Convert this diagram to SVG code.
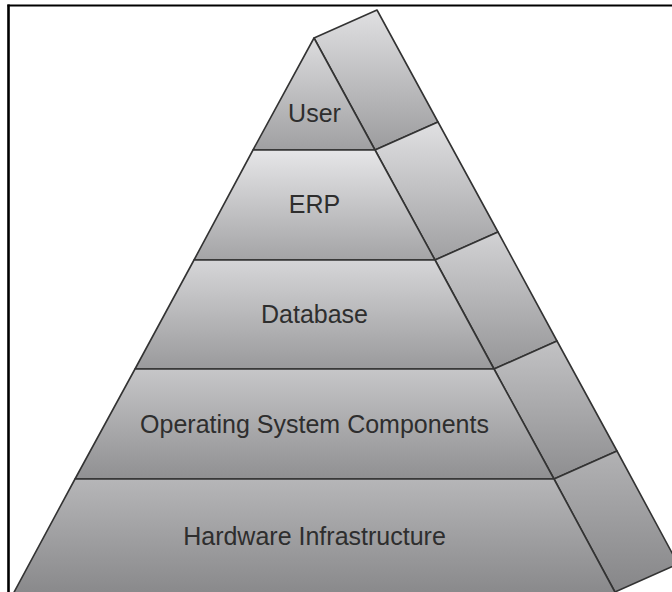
<svg xmlns="http://www.w3.org/2000/svg" width="672" height="592" viewBox="0 0 672 592">
  <defs>
    <linearGradient id="gUser" x1="0" y1="0" x2="0" y2="1"><stop offset="0" stop-color="#dcdcde"/><stop offset="1" stop-color="#a0a0a2"/></linearGradient>
    <linearGradient id="gErp" x1="0" y1="0" x2="0" y2="1"><stop offset="0" stop-color="#e6e6e8"/><stop offset="1" stop-color="#a4a4a6"/></linearGradient>
    <linearGradient id="gDb" x1="0" y1="0" x2="0" y2="1"><stop offset="0" stop-color="#d6d6d8"/><stop offset="1" stop-color="#9a9a9c"/></linearGradient>
    <linearGradient id="gOs" x1="0" y1="0" x2="0" y2="1"><stop offset="0" stop-color="#c6c6c8"/><stop offset="1" stop-color="#909092"/></linearGradient>
    <linearGradient id="gHw" x1="0" y1="0" x2="0" y2="1"><stop offset="0" stop-color="#b6b6b8"/><stop offset="1" stop-color="#88888a"/></linearGradient>
    <linearGradient id="sUser" x1="0" y1="0" x2="0" y2="1"><stop offset="0" stop-color="#e0e0e2"/><stop offset="1" stop-color="#9c9c9e"/></linearGradient>
    <linearGradient id="sErp" x1="0" y1="0" x2="0" y2="1"><stop offset="0" stop-color="#e0e0e2"/><stop offset="1" stop-color="#a0a0a2"/></linearGradient>
    <linearGradient id="sDb" x1="0" y1="0" x2="0" y2="1"><stop offset="0" stop-color="#d2d2d4"/><stop offset="1" stop-color="#969698"/></linearGradient>
    <linearGradient id="sOs" x1="0" y1="0" x2="0" y2="1"><stop offset="0" stop-color="#c2c2c4"/><stop offset="1" stop-color="#8e8e90"/></linearGradient>
    <linearGradient id="sHw" x1="0" y1="0" x2="0" y2="1"><stop offset="0" stop-color="#b2b2b4"/><stop offset="1" stop-color="#868688"/></linearGradient>
  </defs>
  <style>
    .face { stroke: #333; stroke-width: 1.6; stroke-linejoin: round; }
    .lbl { font-family: "Liberation Sans", Arial, sans-serif; font-size: 25px; fill: #2e2e2e; text-anchor: middle; }
    .frame { fill: none; stroke: #000; }
  </style>
  <rect width="672" height="592" fill="#ffffff"/>
  <g id="frame">
    <line class="frame" x1="8.5" y1="4.5" x2="8.5" y2="592" stroke-width="2.6"/>
    <line class="frame" x1="7.5" y1="5.5" x2="672" y2="5.5" stroke-width="2"/>
  </g>
  <g id="layer-user">
    <polygon class="face" fill="url(#sUser)" points="314,38 377,10 438,122 375,150"/>
    <polygon class="face" fill="url(#gUser)" points="314,38 375,150 253,150"/>
    <text class="lbl" x="314.5" y="122">User</text>
  </g>
  <g id="layer-erp">
    <polygon class="face" fill="url(#sErp)" points="375,150 438,122 498,232 435,260"/>
    <polygon class="face" fill="url(#gErp)" points="253,150 375,150 435,260 194,260"/>
    <text class="lbl" x="314.5" y="213">ERP</text>
  </g>
  <g id="layer-database">
    <polygon class="face" fill="url(#sDb)" points="435,260 498,232 557,341 494,369"/>
    <polygon class="face" fill="url(#gDb)" points="194,260 435,260 494,369 135,369"/>
    <text class="lbl" x="314.5" y="323">Database</text>
  </g>
  <g id="layer-os">
    <polygon class="face" fill="url(#sOs)" points="494,369 557,341 617,451 554,479"/>
    <polygon class="face" fill="url(#gOs)" points="135,369 494,369 554,479 75,479"/>
    <text class="lbl" x="314.5" y="433">Operating System Components</text>
  </g>
  <g id="layer-hardware">
    <polygon class="face" fill="url(#sHw)" points="554,479 617,451 678,564 615,592"/>
    <polygon class="face" fill="url(#gHw)" points="75,479 554,479 617,596 12,596"/>
    <text class="lbl" x="314.5" y="545">Hardware Infrastructure</text>
  </g>
  <g id="connectors"/>
</svg>
